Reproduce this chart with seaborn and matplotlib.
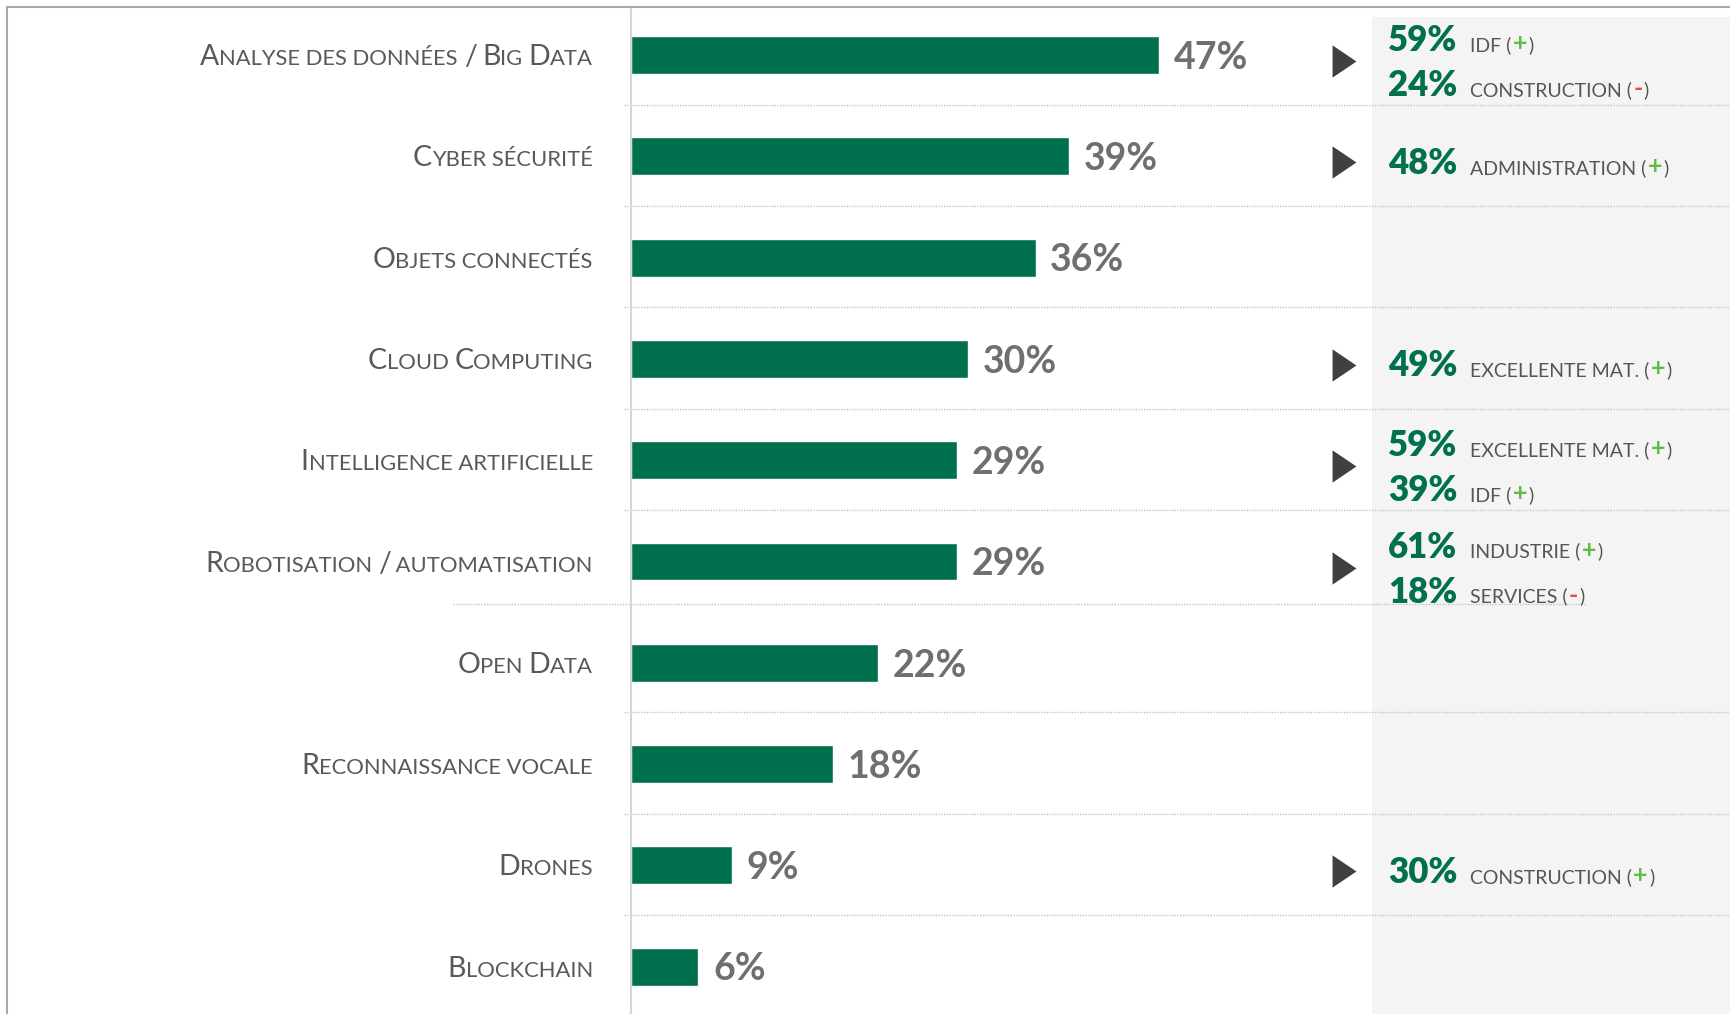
import numpy as np
import pandas as pd
import matplotlib.pyplot as plt
import seaborn as sns
from matplotlib.lines import Line2D
from matplotlib.patches import Rectangle
from matplotlib.offsetbox import TextArea, HPacker, AnnotationBbox

sns.set_theme(style="white")
plt.rcParams['font.family'] = ['Lato', 'DejaVu Sans']

# -- Données du graphique
categories = [
    "Analyse des données / Big Data", "Cyber sécurité", "Objets connectés",
    "Cloud Computing", "Intelligence artificielle", "Robotisation / automatisation",
    "Open Data", "Reconnaissance vocale", "Drones", "Blockchain",
]
values = [47, 39, 36, 30, 29, 29, 22, 18, 9, 6]

# Encadré de droite : ligne, pourcentage, segment, signe
hl_rows = [0, 0, 1, 3, 4, 4, 5, 5, 8]
hl_pcts = [59, 24, 48, 49, 59, 39, 61, 18, 30]
hl_labels = ["IDF", "CONSTRUCTION", "ADMINISTRATION", "EXCELLENTE MAT.",
             "EXCELLENTE MAT.", "IDF", "INDUSTRIE", "SERVICES", "CONSTRUCTION"]
hl_signs = ["+", "-", "+", "+", "+", "+", "+", "-", "+"]

# -- Couleurs
GREEN = "#00704f"
BAR_TXT = "#6f6f6f"
LABEL = "#595959"
PLUS = "#62bb46"
MINUS = "#e5484d"

# -- Mise en page (pixels)
W, H = 1731, 1014
AX_LEFT = 631
PX_PER_PCT = 11.24
XMAX = (W - AX_LEFT) / PX_PER_PCT


def px2x(px):
    return (px - AX_LEFT) / PX_PER_PCT


fig = plt.figure(figsize=(W / 100, H / 100), dpi=100)
ax = fig.add_axes([AX_LEFT / W, 0, (W - AX_LEFT) / W, 1007 / H])

sns.barplot(x=values, y=categories, color=GREEN, saturation=1, width=0.375,
            orient="h", ax=ax)
ax.set_xlim(0, XMAX)
ax.set_ylim(9.467, -0.474)

anns = ax.bar_label(ax.containers[0], labels=[f"{v}%" for v in values], padding=10.5,
                    fontsize=27, fontweight="bold", color=BAR_TXT)
for a in anns:
    a.xyann = (a.xyann[0], a.xyann[1] - 2)

# fond gris de l'encadré
ax.add_patch(Rectangle(((1372 - AX_LEFT) / (W - AX_LEFT), 0),
                       1, 0.99, transform=ax.transAxes,
                       facecolor="#f4f4f4", edgecolor="none", zorder=0))

# séparateurs pointillés
sep_y = [i + 0.49 for i in range(len(categories) - 1)]
sep_y[5] = 5.42
for i, y in enumerate(sep_y):
    x0 = px2x(453) if i == 5 else px2x(624)
    x1 = px2x(1585) if i == 5 else XMAX
    ax.hlines(y, x0, x1, colors="#c4c4c4", lw=1, linestyles=(0, (1, 1)),
              clip_on=False, zorder=0.5)

# étiquettes en petites capitales
def smallcaps(s):
    pieces = []
    for ch in s:
        big = ch.isupper() or ch == "/"
        if pieces and pieces[-1][1] == big:
            pieces[-1][0] += ch.upper()
        else:
            pieces.append([ch.upper(), big])
    return pieces


for i, cat in enumerate(categories):
    boxes = [TextArea(t, textprops=dict(fontsize=20.5 if big else 15.8, color=LABEL))
             for t, big in smallcaps(cat)]
    pack = HPacker(children=boxes, align="baseline", pad=0, sep=0)
    ab = AnnotationBbox(pack, (0, i), xybox=(-27.5, -1.5), boxcoords="offset points",
                        box_alignment=(1, 0.5), frameon=False, pad=0,
                        annotation_clip=False)
    ax.add_artist(ab)

# flèches + encadré
tri = [(-0.37, -0.5), (-0.37, 0.5), (0.37, 0), (-0.37, -0.5)]
tri_rows = sorted(set(hl_rows))
ax.scatter([px2x(1344)] * len(tri_rows), [r + 0.06 for r in tri_rows],
           marker=tri, s=540, color="#404040", linewidths=0, zorder=3)

counts = pd.Series(hl_rows).value_counts()
seen = {}
for row, pct, lab, sign in zip(hl_rows, hl_pcts, hl_labels, hl_signs):
    k = seen.get(row, 0)
    seen[row] = k + 1
    off = 0.07 if counts[row] == 1 else (0.08 - 0.222 if k == 0 else 0.08 + 0.222)
    pct_box = TextArea(f"{pct}%", textprops=dict(fontsize=25, fontweight="heavy", color=GREEN))
    lab_box = HPacker(children=[
        TextArea(f"{lab} (", textprops=dict(fontsize=14, color="#555555")),
        TextArea(sign, textprops=dict(fontsize=18, fontweight="bold",
                                      color=PLUS if sign == "+" else MINUS)),
        TextArea(")", textprops=dict(fontsize=14, color="#555555")),
    ], align="baseline", pad=0, sep=1)
    pack = HPacker(children=[pct_box, lab_box], align="baseline", pad=0, sep=9)
    ab = AnnotationBbox(pack, (px2x(1388), row + off), box_alignment=(0, 0.5),
                        frameon=False, pad=0, annotation_clip=False)
    ax.add_artist(ab)

# axes
for s in ["top", "right", "bottom"]:
    ax.spines[s].set_visible(False)
ax.spines["left"].set_color("#d6d6d6")
ax.spines["left"].set_linewidth(1.5)
ax.set_xticks([])
ax.set_yticks([])
ax.set_xlabel("")
ax.set_ylabel("")

# cadre extérieur
fig.add_artist(Line2D([7 / W, 1], [1 - 6.5 / H] * 2, transform=fig.transFigure,
                      color="#a8a8a8", lw=1.5))
fig.add_artist(Line2D([7.5 / W] * 2, [0, 1 - 6.5 / H], transform=fig.transFigure,
                      color="#a8a8a8", lw=1.5))

fig.savefig("out.png", dpi=100)
